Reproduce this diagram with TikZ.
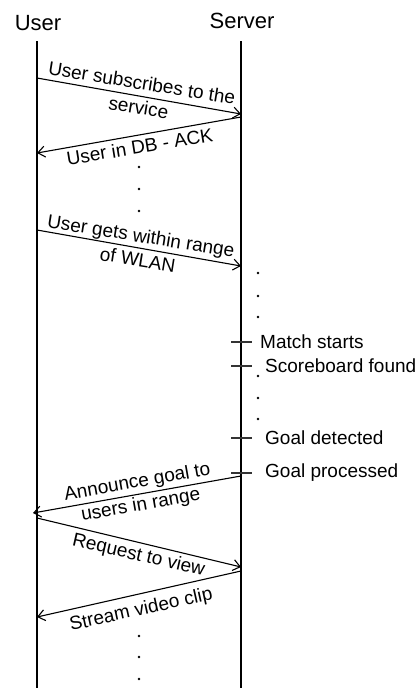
\documentclass[tikz,border=0pt]{standalone}
\usepackage{fontspec}
\setmainfont{Liberation Sans}
\usetikzlibrary{arrows.meta}
\tikzset{
  lifeline/.style={line width=1.1pt},
  msg/.style={line width=1.1pt,-{Straight Barb[length=7pt,width=11pt,line width=1.1pt]}},
  head/.style={font=\fontsize{22}{24}\selectfont,inner sep=0pt},
  lbl/.style={font=\fontsize{19}{23}\selectfont,anchor=base,inner sep=0pt},
  evt/.style={font=\fontsize{19}{21}\selectfont,anchor=west,inner sep=0pt},
  tick/.style={line width=1.5pt,draw=black!80},
  dot/.style={fill=black}
}
\begin{document}
\begin{tikzpicture}[x=1pt,y=-1pt]
\useasboundingbox (0,0) rectangle (416,688);

% participants
\node[head] (user) at (38,23) {User};
\node[head] (server) at (242,21) {Server};
\coordinate (utop) at (37,41);
\coordinate (ubot) at (37,688);
\coordinate (stop) at (241,41);
\coordinate (sbot) at (241,688);
\draw[lifeline] (utop) -- (ubot);
\draw[lifeline] (stop) -- (sbot);

% message end points
\coordinate (u1) at (37,78);   \coordinate (s1) at (241,114);
\coordinate (s2) at (241,117); \coordinate (u2) at (37,153);
\coordinate (u3) at (37,230);  \coordinate (s3) at (241,266);
\coordinate (s4) at (241,476); \coordinate (u4) at (33,513);
\coordinate (u5) at (37,518);  \coordinate (s5) at (241,567);
\coordinate (s6) at (241,571); \coordinate (u6) at (37,617);

% messages, each text line placed on its own baseline
\draw[msg] (u1) -- (s1);
\node[lbl,rotate=-9.2] (m1a) at (140.8,89.5) {User subscribes to the};
\node[lbl,rotate=-9.2] (m1b) at (137.5,114) {service};

\draw[msg] (s2) -- (u2);
\node[lbl,rotate=9.2] (m2) at (140.8,153.5) {User in DB - ACK};

\draw[msg] (u3) -- (s3);
\node[lbl,rotate=-9.1] (m3a) at (140,242.3) {User gets within range};
\node[lbl,rotate=-9.1] (m3b) at (136.7,266.2) {of WLAN};

\draw[msg] (s4) -- (u4);
\node[lbl,rotate=10] (m4a) at (138.3,487.5) {Announce goal to};
\node[lbl,rotate=10] (m4b) at (141.7,510.5) {users in range};

\draw[msg] (u5) -- (s5);
\node[lbl,rotate=-12.9] (m5) at (137.5,560.6) {Request to view};

\draw[msg] (s6) -- (u6);
\node[lbl,rotate=12.5] (m6) at (142.3,615) {Stream video clip};

% server events
\foreach \n/\y/\t/\x in {e1/342/Match starts/260,e2/366/Scoreboard found/265,e3/438/Goal detected/265,e4/473/Goal processed/265}{
  \coordinate (\n a) at (231,\y);
  \coordinate (\n b) at (252,\y);
  \draw[tick] (\n a) -- (\n b);
  \node[evt] (\n) at (\x,\y) {\t};
}

% ellipsis dots
\foreach \x/\y in {139/167,139/189,139/211,
                   258/273,258/296,258/317,
                   258/376,258/398,258/419,
                   139/636,139/657,139/679}{
  \fill[dot] (\x,\y) circle (1.4pt);
}
\end{tikzpicture}
\end{document}
